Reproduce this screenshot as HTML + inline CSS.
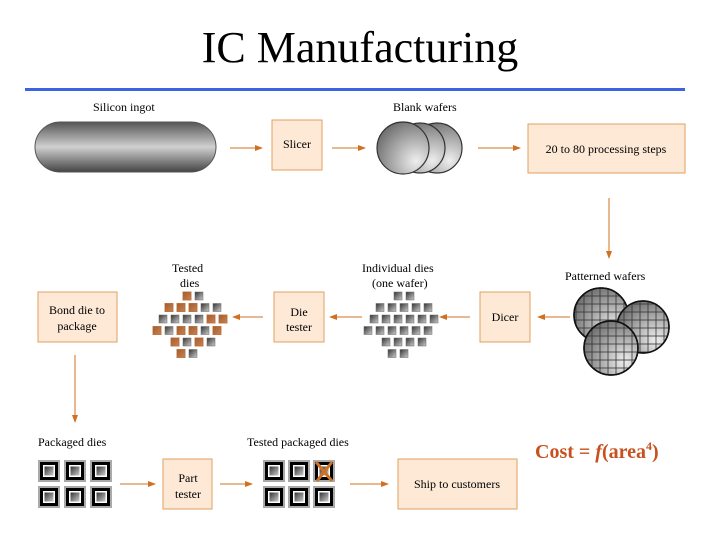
<!DOCTYPE html>
<html><head><meta charset="utf-8"><style>
body{margin:0;background:#fff;width:720px;height:540px;overflow:hidden;font-family:"Liberation Serif",serif}
</style></head><body>
<svg id="s" width="720" height="540" xmlns="http://www.w3.org/2000/svg" font-family="Liberation Serif, serif">
<defs>
<linearGradient id="ing" x1="0" y1="0" x2="0" y2="1">
<stop offset="0" stop-color="#555"/><stop offset="0.5" stop-color="#d0d0d0"/><stop offset="1" stop-color="#444"/></linearGradient>
<radialGradient id="waf" cx="0.75" cy="0.75" r="0.9">
<stop offset="0" stop-color="#eee"/><stop offset="1" stop-color="#666"/></radialGradient>
<linearGradient id="die" x1="0" y1="0" x2="1" y2="1">
<stop offset="0" stop-color="#333"/><stop offset="1" stop-color="#ccc"/></linearGradient>
<pattern id="grid" width="8" height="8" patternUnits="userSpaceOnUse">
<rect width="8" height="8" fill="none" stroke="#333" stroke-width="0.8"/></pattern>
<marker id="ar" markerWidth="8" markerHeight="6" refX="7" refY="3" orient="auto"><path d="M0,0 L8,3 L0,6 z" fill="#d07020"/></marker>
</defs>
<text x="360" y="62" font-size="44" text-anchor="middle">IC Manufacturing</text>
<rect x="25" y="88" width="660" height="3" fill="#3c64e0"/>
<g font-size="12">
<text x="93" y="111">Silicon ingot</text>
<text x="393" y="111">Blank wafers</text>
<text x="172" y="272">Tested</text><text x="180" y="287">dies</text>
<text x="362" y="272">Individual dies</text><text x="372" y="287">(one wafer)</text>
<text x="565" y="280">Patterned wafers</text>
<text x="38" y="446">Packaged dies</text>
<text x="247" y="446">Tested packaged dies</text>
</g>
<rect x="35" y="122" width="181" height="50" rx="25" fill="url(#ing)" stroke="#555"/>
<g fill="#fde9d6" stroke="#e0a060" stroke-width="1">
<rect x="272" y="120" width="50" height="50"/>
<rect x="528" y="124" width="157" height="49"/>
<rect x="480" y="292" width="50" height="50"/>
<rect x="274" y="292" width="50" height="50"/>
<rect x="38" y="292" width="79" height="50"/>
<rect x="163" y="459" width="49" height="50"/>
<rect x="398" y="459" width="119" height="50"/>
</g>
<g font-size="12" text-anchor="middle">
<text x="297" y="148">Slicer</text>
<text x="606" y="153">20 to 80 processing steps</text>
<text x="505" y="321">Dicer</text>
<text x="299" y="316">Die</text><text x="299" y="331">tester</text>
<text x="77" y="314">Bond die to</text><text x="77" y="330">package</text>
<text x="188" y="482">Part</text><text x="188" y="498">tester</text>
<text x="457" y="488">Ship to customers</text>
</g>
<g stroke="#d07020" stroke-width="1" marker-end="url(#ar)">
<line x1="230" y1="148" x2="262" y2="148"/>
<line x1="332" y1="148" x2="365" y2="148"/>
<line x1="478" y1="148" x2="520" y2="148"/>
<line x1="609" y1="198" x2="609" y2="258"/>
<line x1="570" y1="317" x2="538" y2="317"/>
<line x1="470" y1="317" x2="440" y2="317"/>
<line x1="362" y1="317" x2="330" y2="317"/>
<line x1="263" y1="317" x2="233" y2="317"/>
<line x1="75" y1="355" x2="75" y2="422"/>
<line x1="120" y1="484" x2="155" y2="484"/>
<line x1="220" y1="484" x2="252" y2="484"/>
<line x1="350" y1="484" x2="388" y2="484"/>
</g>
<g stroke="#333" stroke-width="1.2" fill="url(#waf)">
<circle cx="437" cy="148" r="25"/><circle cx="420" cy="148" r="25"/><circle cx="403" cy="148" r="26"/>
</g>
<g stroke="#111" stroke-width="1.5">
<circle cx="601" cy="315" r="27" fill="url(#waf)"/><circle cx="601" cy="315" r="27" fill="url(#grid)"/>
<circle cx="643" cy="327" r="26" fill="url(#waf)"/><circle cx="643" cy="327" r="26" fill="url(#grid)"/>
<circle cx="611" cy="348" r="27" fill="url(#waf)"/><circle cx="611" cy="348" r="27" fill="url(#grid)"/>
</g>
<text x="535" y="458" font-size="20" font-weight="bold" fill="#c8501e">Cost = <tspan font-style="italic">f</tspan>(area<tspan font-size="12" dy="-8">4</tspan><tspan dy="8">)</tspan></text>
<g id="d"></g>
</svg>
<script>
var g=document.getElementById('d'),h='';
var rows=[[1,2],[0,1,2,3,4],[-1,0,1,2,3,4],[-1,0,1,2,3,4],[0,1,2,3],[1,2]];
var bad={};['0,0','0,1','1,0','1,1','1,2','2,3','2,4','3,-1','3,1','3,2','3,4','4,0','4,2','5,1'].forEach(function(k){bad[k]=1});
function dies(cx,cy,mark){rows.forEach(function(r,i){r.forEach(function(c){
var off=(i%2)?-6:0;var x=cx+c*12+off-24,y=cy+i*11.5-30;
h+='<rect x="'+x+'" y="'+y+'" width="8" height="8" fill="url(#die)" stroke="#666" stroke-width="0.5"/>';
if(mark&&bad[i+','+c])h+='<rect x="'+(x-0.5)+'" y="'+(y-0.5)+'" width="9" height="9" fill="#c86a28" opacity="0.75"/>';});});}
dies(406,322,0);dies(195,322,1);
function pk(x,y,m){h+='<rect x="'+x+'" y="'+y+'" width="22" height="22" fill="#aaa"/><rect x="'+(x+2)+'" y="'+(y+2)+'" width="18" height="18" fill="#000"/><rect x="'+(x+5)+'" y="'+(y+5)+'" width="12" height="12" fill="#fff"/><rect x="'+(x+6.5)+'" y="'+(y+6.5)+'" width="9" height="9" fill="url(#die)"/>';
if(m)h+='<path d="M'+(x+3)+','+(y+2)+' L'+(x+19)+','+(y+21)+' M'+(x+19)+','+(y+2)+' L'+(x+4)+','+(y+21)+'" stroke="#d07020" stroke-width="3"/>';}
[38,64,90].forEach(function(x){pk(x,460);pk(x,486);});
[263,288,313].forEach(function(x,i){pk(x,460,i==2);pk(x,486);});
g.innerHTML=h;
</script>
</body></html>
